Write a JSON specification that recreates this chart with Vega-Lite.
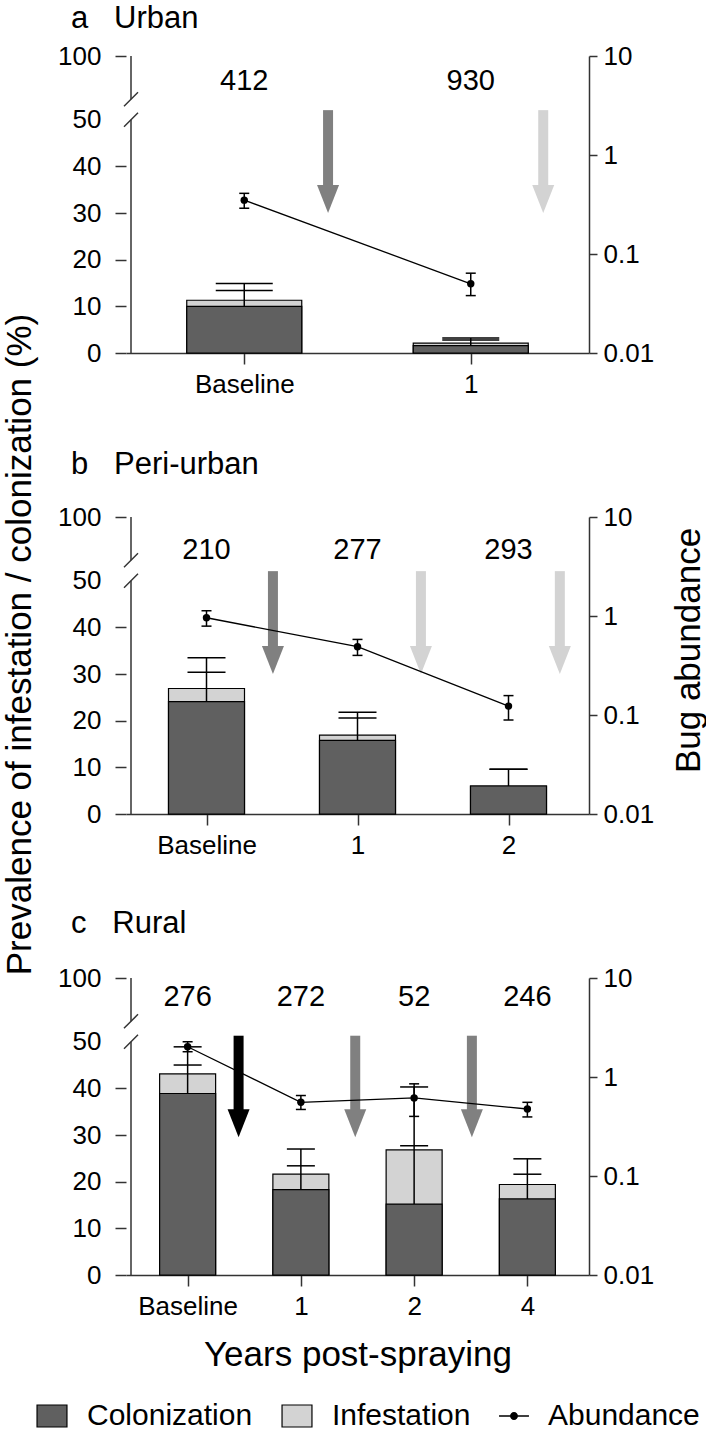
{
  "$schema": "https://vega.github.io/schema/vega-lite/v6.json",
  "padding": {"left": 2, "top": 3, "right": 0, "bottom": 0},
  "bounds": "flush",
  "spacing": 164,
  "config": {
    "font": "Liberation Sans",
    "view": {"stroke": null},
    "axis": {"grid": false, "labelFontSize": 26, "labelColor": "black", "labelFont": "Liberation Sans", "titleFont": "Liberation Sans", "titleFontSize": 35, "titleFontWeight": "normal", "titleColor": "black", "domainColor": "#333333", "domainWidth": 1.5, "tickColor": "#333333", "tickWidth": 1.5},
    "legend": {"labelFontSize": 30, "labelColor": "black", "labelFont": "Liberation Sans", "labelLimit": 0, "symbolSize": 484, "symbolOpacity": 1, "symbolStrokeWidth": 1.2, "labelOffset": 20, "columnPadding": 26, "orient": "none", "direction": "horizontal", "title": null, "padding": 0},
    "title": {"fontSize": 31, "fontWeight": "normal", "anchor": "start", "frame": "group", "color": "black", "font": "Liberation Sans"}
  },
  "datasets": {
    "urban": [
      {"pos": 0, "col": 10.0, "inf": 11.3, "col_hi": 13.4, "inf_hi": 14.9, "n": 412, "abund": 0.35, "lo": 0.29, "hi": 0.41},
      {"pos": 1, "col": 1.6, "inf": 2.1, "col_hi": 2.8, "inf_hi": 3.2, "n": 930, "abund": 0.05, "lo": 0.038, "hi": 0.064}
    ],
    "periurban": [
      {"pos": 0, "col": 24.1, "inf": 26.9, "col_hi": 30.4, "inf_hi": 33.5, "n": 210, "abund": 0.96, "lo": 0.79, "hi": 1.13},
      {"pos": 1, "col": 15.8, "inf": 16.9, "col_hi": 20.6, "inf_hi": 21.8, "n": 277, "abund": 0.49, "lo": 0.40, "hi": 0.58},
      {"pos": 2, "col": 6.0, "inf": 6.0, "col_hi": 9.6, "inf_hi": 9.6, "n": 293, "abund": 0.123, "lo": 0.089, "hi": 0.157}
    ],
    "rural": [
      {"pos": 0, "col": 38.9, "inf": 43.1, "col_hi": 45.0, "inf_hi": 48.9, "n": 276, "abund": 2.02, "lo": 1.80, "hi": 2.27},
      {"pos": 1, "col": 18.3, "inf": 21.6, "col_hi": 23.4, "inf_hi": 27.0, "n": 272, "abund": 0.555, "lo": 0.47, "hi": 0.65},
      {"pos": 2, "col": 15.2, "inf": 26.8, "col_hi": 27.7, "inf_hi": 40.3, "n": 52, "abund": 0.615, "lo": 0.40, "hi": 0.853},
      {"pos": 3, "col": 16.3, "inf": 19.4, "col_hi": 21.6, "inf_hi": 24.9, "n": 246, "abund": 0.475, "lo": 0.395, "hi": 0.555}
    ],
    "urban_spray": [{"at": 0.37, "tone": "gray"}, {"at": 1.32, "tone": "light"}],
    "periurban_spray": [{"at": 0.44, "tone": "gray"}, {"at": 1.42, "tone": "light"}, {"at": 2.34, "tone": "light"}],
    "rural_spray": [{"at": 0.45, "tone": "black"}, {"at": 1.48, "tone": "gray"}, {"at": 2.51, "tone": "gray"}],
    "axis_break": [{"lo": 0, "hi": 50, "cut": 50}, {"lo": 66, "hi": 100, "cut": 66}]
  },
  "vconcat": [
    {
      "width": 463, "height": 297,
      "title": {"text": "a\u00a0\u00a0\u00a0Urban", "dx": -55, "offset": 8},
      "resolve": {"scale": {"y": "independent"}},
      "layer": [
        {
          "layer": [
            {"data": {"name": "urban"}, "mark": {"type": "bar", "orient": "vertical", "width": 115, "stroke": "black", "strokeWidth": 1.2},
             "encoding": {
               "x": {"field": "pos", "type": "quantitative", "scale": {"domain": [-0.5, 1.5], "nice": false, "zero": false}, "axis": {"values": [0, 1], "labelExpr": "datum.value === 0 ? 'Baseline' : format(datum.value, 'd')", "tickSize": 11, "labelPadding": 7, "title": null}},
               "y": {"field": "inf", "type": "quantitative", "stack": null, "scale": {"domain": [0, 50, 100], "range": [297, 63.7, 0], "nice": false, "zero": false}, "axis": {"orient": "left", "values": [0, 10, 20, 30, 40, 50, 100], "domain": false, "tickSize": 11, "labelPadding": 14, "tickOpacity": {"condition": {"test": "datum.value === 50", "value": 0}, "value": 1}, "title": "Prevalence of infestation / colonization (%)", "titleX": -96, "titleY": 588, "titleAngle": -90, "titleBaseline": "alphabetic", "titleAlign": "center"}},
               "fill": {"datum": "Infestation", "type": "nominal", "scale": {"domain": ["Colonization", "Infestation"], "range": ["#606060", "#d3d3d3"]}}
             }},
            {"data": {"name": "urban"}, "mark": {"type": "bar", "orient": "vertical", "width": 115, "stroke": "black", "strokeWidth": 1.2},
             "encoding": {
               "x": {"field": "pos", "type": "quantitative"},
               "y": {"field": "col", "type": "quantitative", "stack": null},
               "fill": {"datum": "Colonization", "type": "nominal"}
             }},
            {"data": {"name": "urban"}, "mark": {"type": "rule", "color": "black", "strokeWidth": 1.5},
             "encoding": {"x": {"field": "pos", "type": "quantitative"}, "y": {"field": "col", "type": "quantitative"}, "y2": {"field": "inf_hi"}}},
            {"data": {"name": "urban"}, "mark": {"type": "tick", "orient": "horizontal", "size": 57, "thickness": 1.5, "color": "black", "opacity": 1},
             "encoding": {"x": {"field": "pos", "type": "quantitative"}, "y": {"field": "col_hi", "type": "quantitative"}}},
            {"data": {"name": "urban"}, "mark": {"type": "tick", "orient": "horizontal", "size": 57, "thickness": 1.5, "color": "black", "opacity": 1},
             "encoding": {"x": {"field": "pos", "type": "quantitative"}, "y": {"field": "inf_hi", "type": "quantitative"}}},
            {"data": {"name": "urban"}, "mark": {"type": "text", "fontSize": 29, "color": "black", "baseline": "middle"},
             "encoding": {"x": {"field": "pos", "type": "quantitative"}, "y": {"datum": 80, "type": "quantitative"}, "text": {"field": "n", "type": "nominal"}}},
            {"data": {"name": "urban_spray"}, "mark": {"type": "rule", "strokeWidth": 10, "strokeCap": "butt"},
             "encoding": {"x": {"field": "at", "type": "quantitative"}, "y": {"datum": 57.5, "type": "quantitative"}, "y2": {"datum": 35}, "color": {"field": "tone", "type": "nominal", "scale": {"domain": ["black", "gray", "light"], "range": ["#000000", "#808080", "#d3d3d3"]}, "legend": null}}},
            {"data": {"name": "urban_spray"}, "mark": {"type": "point", "shape": "M-1,-2.55L1,-2.55L0,0Z", "size": 484, "filled": true, "opacity": 1, "strokeWidth": 0},
             "encoding": {"x": {"field": "at", "type": "quantitative"}, "y": {"datum": 30, "type": "quantitative"}, "color": {"field": "tone", "type": "nominal", "legend": null}}},
            {"data": {"name": "axis_break"}, "mark": {"type": "rule", "color": "#333333", "strokeWidth": 1.5},
             "encoding": {"x": {"datum": -0.5, "type": "quantitative"}, "y": {"field": "lo", "type": "quantitative"}, "y2": {"field": "hi"}}},
            {"data": {"name": "axis_break"}, "mark": {"type": "point", "shape": "M-1,1L1,-1", "size": 196, "filled": false, "color": "#333333", "strokeWidth": 1.5, "opacity": 1},
             "encoding": {"x": {"datum": -0.5, "type": "quantitative"}, "y": {"field": "cut", "type": "quantitative"}}}
          ]
        },
        {
          "data": {"name": "urban"},
          "layer": [
            {"mark": {"type": "line", "color": "black", "strokeWidth": 1.3},
             "encoding": {"x": {"field": "pos", "type": "quantitative"}, "y": {"field": "abund", "type": "quantitative", "scale": {"type": "log", "domain": [0.01, 10], "nice": false}, "axis": {"orient": "right", "values": [0.01, 0.1, 1, 10], "format": "~g", "tickSize": 8, "labelPadding": 6, "title": "Bug abundance", "titleX": 110, "titleY": 594, "titleAngle": -90, "titleBaseline": "alphabetic", "titleAlign": "center"}}}},
            {"mark": {"type": "rule", "color": "black", "strokeWidth": 1.5},
             "encoding": {"x": {"field": "pos", "type": "quantitative"}, "y": {"field": "lo", "type": "quantitative"}, "y2": {"field": "hi"}}},
            {"mark": {"type": "tick", "orient": "horizontal", "size": 10, "thickness": 1.5, "color": "black", "opacity": 1},
             "encoding": {"x": {"field": "pos", "type": "quantitative"}, "y": {"field": "lo", "type": "quantitative"}}},
            {"mark": {"type": "tick", "orient": "horizontal", "size": 10, "thickness": 1.5, "color": "black", "opacity": 1},
             "encoding": {"x": {"field": "pos", "type": "quantitative"}, "y": {"field": "hi", "type": "quantitative"}}},
            {"mark": {"type": "point", "filled": true, "size": 55, "opacity": 1, "color": "black"},
             "encoding": {"x": {"field": "pos", "type": "quantitative"}, "y": {"field": "abund", "type": "quantitative"}}}
          ]
        }
      ]
    },
    {
      "width": 463, "height": 297,
      "title": {"text": "b\u00a0\u00a0\u00a0Peri-urban", "dx": -55, "offset": 23},
      "resolve": {"scale": {"y": "independent"}},
      "layer": [
        {
          "layer": [
            {"data": {"name": "periurban"}, "mark": {"type": "bar", "orient": "vertical", "width": 76, "stroke": "black", "strokeWidth": 1.2},
             "encoding": {
               "x": {"field": "pos", "type": "quantitative", "scale": {"domain": [-0.5, 2.5], "nice": false, "zero": false}, "axis": {"values": [0, 1, 2], "labelExpr": "datum.value === 0 ? 'Baseline' : format(datum.value, 'd')", "tickSize": 11, "labelPadding": 7, "title": null}},
               "y": {"field": "inf", "type": "quantitative", "stack": null, "scale": {"domain": [0, 50, 100], "range": [297, 63.7, 0], "nice": false, "zero": false}, "axis": {"orient": "left", "values": [0, 10, 20, 30, 40, 50, 100], "domain": false, "tickSize": 11, "labelPadding": 14, "title": null, "tickOpacity": {"condition": {"test": "datum.value === 50", "value": 0}, "value": 1}}},
               "fill": {"datum": "Infestation", "type": "nominal", "scale": {"domain": ["Colonization", "Infestation"], "range": ["#606060", "#d3d3d3"]}}
             }},
            {"data": {"name": "periurban"}, "mark": {"type": "bar", "orient": "vertical", "width": 76, "stroke": "black", "strokeWidth": 1.2},
             "encoding": {
               "x": {"field": "pos", "type": "quantitative"},
               "y": {"field": "col", "type": "quantitative", "stack": null},
               "fill": {"datum": "Colonization", "type": "nominal"}
             }},
            {"data": {"name": "periurban"}, "mark": {"type": "rule", "color": "black", "strokeWidth": 1.5},
             "encoding": {"x": {"field": "pos", "type": "quantitative"}, "y": {"field": "col", "type": "quantitative"}, "y2": {"field": "inf_hi"}}},
            {"data": {"name": "periurban"}, "mark": {"type": "tick", "orient": "horizontal", "size": 38, "thickness": 1.5, "color": "black", "opacity": 1},
             "encoding": {"x": {"field": "pos", "type": "quantitative"}, "y": {"field": "col_hi", "type": "quantitative"}}},
            {"data": {"name": "periurban"}, "mark": {"type": "tick", "orient": "horizontal", "size": 38, "thickness": 1.5, "color": "black", "opacity": 1},
             "encoding": {"x": {"field": "pos", "type": "quantitative"}, "y": {"field": "inf_hi", "type": "quantitative"}}},
            {"data": {"name": "periurban"}, "mark": {"type": "text", "fontSize": 29, "color": "black", "baseline": "middle"},
             "encoding": {"x": {"field": "pos", "type": "quantitative"}, "y": {"datum": 74, "type": "quantitative"}, "text": {"field": "n", "type": "nominal"}}},
            {"data": {"name": "periurban_spray"}, "mark": {"type": "rule", "strokeWidth": 10, "strokeCap": "butt"},
             "encoding": {"x": {"field": "at", "type": "quantitative"}, "y": {"datum": 57.5, "type": "quantitative"}, "y2": {"datum": 35}, "color": {"field": "tone", "type": "nominal", "scale": {"domain": ["black", "gray", "light"], "range": ["#000000", "#808080", "#d3d3d3"]}, "legend": null}}},
            {"data": {"name": "periurban_spray"}, "mark": {"type": "point", "shape": "M-1,-2.55L1,-2.55L0,0Z", "size": 484, "filled": true, "opacity": 1, "strokeWidth": 0},
             "encoding": {"x": {"field": "at", "type": "quantitative"}, "y": {"datum": 30, "type": "quantitative"}, "color": {"field": "tone", "type": "nominal", "legend": null}}},
            {"data": {"name": "axis_break"}, "mark": {"type": "rule", "color": "#333333", "strokeWidth": 1.5},
             "encoding": {"x": {"datum": -0.5, "type": "quantitative"}, "y": {"field": "lo", "type": "quantitative"}, "y2": {"field": "hi"}}},
            {"data": {"name": "axis_break"}, "mark": {"type": "point", "shape": "M-1,1L1,-1", "size": 196, "filled": false, "color": "#333333", "strokeWidth": 1.5, "opacity": 1},
             "encoding": {"x": {"datum": -0.5, "type": "quantitative"}, "y": {"field": "cut", "type": "quantitative"}}}
          ]
        },
        {
          "data": {"name": "periurban"},
          "layer": [
            {"mark": {"type": "line", "color": "black", "strokeWidth": 1.3},
             "encoding": {"x": {"field": "pos", "type": "quantitative"}, "y": {"field": "abund", "type": "quantitative", "scale": {"type": "log", "domain": [0.01, 10], "nice": false}, "axis": {"orient": "right", "values": [0.01, 0.1, 1, 10], "format": "~g", "tickSize": 8, "labelPadding": 6, "title": null}}}},
            {"mark": {"type": "rule", "color": "black", "strokeWidth": 1.5},
             "encoding": {"x": {"field": "pos", "type": "quantitative"}, "y": {"field": "lo", "type": "quantitative"}, "y2": {"field": "hi"}}},
            {"mark": {"type": "tick", "orient": "horizontal", "size": 10, "thickness": 1.5, "color": "black", "opacity": 1},
             "encoding": {"x": {"field": "pos", "type": "quantitative"}, "y": {"field": "lo", "type": "quantitative"}}},
            {"mark": {"type": "tick", "orient": "horizontal", "size": 10, "thickness": 1.5, "color": "black", "opacity": 1},
             "encoding": {"x": {"field": "pos", "type": "quantitative"}, "y": {"field": "hi", "type": "quantitative"}}},
            {"mark": {"type": "point", "filled": true, "size": 55, "opacity": 1, "color": "black"},
             "encoding": {"x": {"field": "pos", "type": "quantitative"}, "y": {"field": "abund", "type": "quantitative"}}}
          ]
        }
      ]
    },
    {
      "width": 463, "height": 297,
      "title": {"text": "c\u00a0\u00a0\u00a0Rural", "dx": -55, "offset": 25},
      "resolve": {"scale": {"y": "independent"}},
      "layer": [
        {
          "layer": [
            {"data": {"name": "rural"}, "mark": {"type": "bar", "orient": "vertical", "width": 56, "stroke": "black", "strokeWidth": 1.2},
             "encoding": {
               "x": {"field": "pos", "type": "quantitative", "scale": {"domain": [-0.5, 3.5], "nice": false, "zero": false}, "axis": {"values": [0, 1, 2, 3], "labelExpr": "datum.value === 0 ? 'Baseline' : datum.value === 3 ? '4' : format(datum.value, 'd')", "tickSize": 11, "labelPadding": 7, "title": "Years post-spraying", "titlePadding": 18}},
               "y": {"field": "inf", "type": "quantitative", "stack": null, "scale": {"domain": [0, 50, 100], "range": [297, 63.7, 0], "nice": false, "zero": false}, "axis": {"orient": "left", "values": [0, 10, 20, 30, 40, 50, 100], "domain": false, "tickSize": 11, "labelPadding": 14, "title": null, "tickOpacity": {"condition": {"test": "datum.value === 50", "value": 0}, "value": 1}}},
               "fill": {"datum": "Infestation", "type": "nominal", "scale": {"domain": ["Colonization", "Infestation"], "range": ["#606060", "#d3d3d3"]}}
             }},
            {"data": {"name": "rural"}, "mark": {"type": "bar", "orient": "vertical", "width": 56, "stroke": "black", "strokeWidth": 1.2},
             "encoding": {
               "x": {"field": "pos", "type": "quantitative"},
               "y": {"field": "col", "type": "quantitative", "stack": null},
               "fill": {"datum": "Colonization", "type": "nominal", "legend": {"legendX": -89, "legendY": 1345, "symbolType": "M-1.36,-1H1.36V1H-1.36Z", "symbolStrokeColor": "black"}}
             }},
            {"data": {"name": "rural"}, "mark": {"type": "rule", "color": "black", "strokeWidth": 1.5},
             "encoding": {"x": {"field": "pos", "type": "quantitative"}, "y": {"field": "col", "type": "quantitative"}, "y2": {"field": "inf_hi"}}},
            {"data": {"name": "rural"}, "mark": {"type": "tick", "orient": "horizontal", "size": 28, "thickness": 1.5, "color": "black", "opacity": 1},
             "encoding": {"x": {"field": "pos", "type": "quantitative"}, "y": {"field": "col_hi", "type": "quantitative"}}},
            {"data": {"name": "rural"}, "mark": {"type": "tick", "orient": "horizontal", "size": 28, "thickness": 1.5, "color": "black", "opacity": 1},
             "encoding": {"x": {"field": "pos", "type": "quantitative"}, "y": {"field": "inf_hi", "type": "quantitative"}}},
            {"data": {"name": "rural"}, "mark": {"type": "text", "fontSize": 29, "color": "black", "baseline": "middle"},
             "encoding": {"x": {"field": "pos", "type": "quantitative"}, "y": {"datum": 85, "type": "quantitative"}, "text": {"field": "n", "type": "nominal"}}},
            {"data": {"name": "rural_spray"}, "mark": {"type": "rule", "strokeWidth": 10, "strokeCap": "butt"},
             "encoding": {"x": {"field": "at", "type": "quantitative"}, "y": {"datum": 54.7, "type": "quantitative"}, "y2": {"datum": 35}, "color": {"field": "tone", "type": "nominal", "scale": {"domain": ["black", "gray", "light"], "range": ["#000000", "#808080", "#d3d3d3"]}, "legend": null}}},
            {"data": {"name": "rural_spray"}, "mark": {"type": "point", "shape": "M-1,-2.55L1,-2.55L0,0Z", "size": 484, "filled": true, "opacity": 1, "strokeWidth": 0},
             "encoding": {"x": {"field": "at", "type": "quantitative"}, "y": {"datum": 29.5, "type": "quantitative"}, "color": {"field": "tone", "type": "nominal", "legend": null}}},
            {"data": {"name": "axis_break"}, "mark": {"type": "rule", "color": "#333333", "strokeWidth": 1.5},
             "encoding": {"x": {"datum": -0.5, "type": "quantitative"}, "y": {"field": "lo", "type": "quantitative"}, "y2": {"field": "hi"}}},
            {"data": {"name": "axis_break"}, "mark": {"type": "point", "shape": "M-1,1L1,-1", "size": 196, "filled": false, "color": "#333333", "strokeWidth": 1.5, "opacity": 1},
             "encoding": {"x": {"datum": -0.5, "type": "quantitative"}, "y": {"field": "cut", "type": "quantitative"}}}
          ]
        },
        {
          "data": {"name": "rural"},
          "layer": [
            {"mark": {"type": "line", "color": "black", "strokeWidth": 1.3},
             "encoding": {"x": {"field": "pos", "type": "quantitative"}, "y": {"field": "abund", "type": "quantitative", "scale": {"type": "log", "domain": [0.01, 10], "nice": false}, "axis": {"orient": "right", "values": [0.01, 0.1, 1, 10], "format": "~g", "tickSize": 8, "labelPadding": 6, "title": null}}}},
            {"mark": {"type": "rule", "color": "black", "strokeWidth": 1.5},
             "encoding": {"x": {"field": "pos", "type": "quantitative"}, "y": {"field": "lo", "type": "quantitative"}, "y2": {"field": "hi"}}},
            {"mark": {"type": "tick", "orient": "horizontal", "size": 10, "thickness": 1.5, "color": "black", "opacity": 1},
             "encoding": {"x": {"field": "pos", "type": "quantitative"}, "y": {"field": "lo", "type": "quantitative"}}},
            {"mark": {"type": "tick", "orient": "horizontal", "size": 10, "thickness": 1.5, "color": "black", "opacity": 1},
             "encoding": {"x": {"field": "pos", "type": "quantitative"}, "y": {"field": "hi", "type": "quantitative"}}},
            {"mark": {"type": "point", "filled": true, "size": 55, "opacity": 1, "color": "black"},
             "encoding": {"x": {"field": "pos", "type": "quantitative"}, "y": {"field": "abund", "type": "quantitative"}}},
            {"mark": {"type": "point", "filled": true, "size": 484, "opacity": 0, "color": "black"},
             "encoding": {"x": {"field": "pos", "type": "quantitative"}, "y": {"field": "abund", "type": "quantitative"}, "shape": {"datum": "Abundance", "type": "nominal", "scale": {"range": ["M-1.36,-0.07H1.36V0.07H-1.36ZM-0.36,0A0.36,0.36,0,1,1,0.36,0A0.36,0.36,0,1,1,-0.36,0Z"]}, "legend": {"legendX": 373, "legendY": 1345, "labelOffset": 19}}}}
          ]
        }
      ]
    }
  ]
}
